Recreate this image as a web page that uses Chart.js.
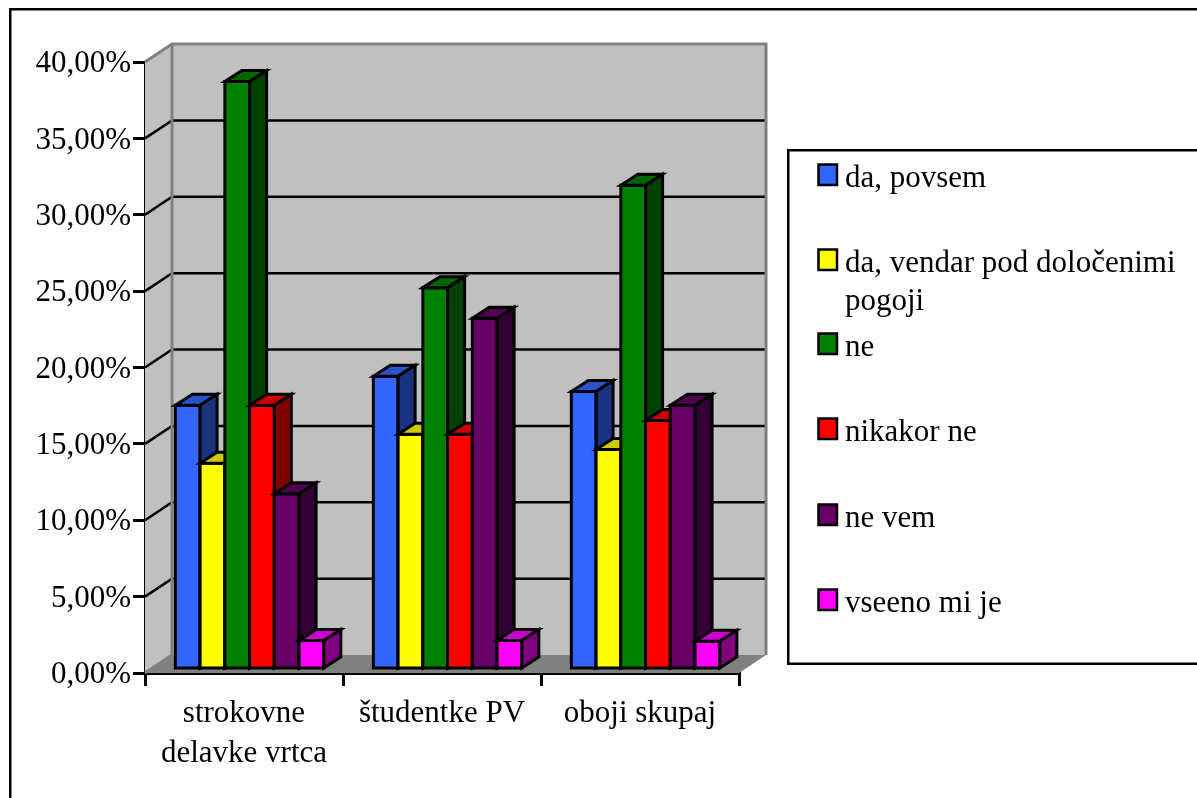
<!DOCTYPE html>
<html>
<head>
<meta charset="utf-8">
<script src="https://cdn.jsdelivr.net/npm/chart.js@4/dist/chart.umd.min.js"></script>
<style>html,body{margin:0;padding:0;background:#fff;overflow:hidden}canvas{display:block}</style>
</head>
<body>
<canvas id="c" width="1197" height="798"></canvas>
<script>
const categories = [["strokovne","delavke vrtca"],"študentke PV","oboji skupaj"];
const seriesNames = [["da, povsem"],["da, vendar pod določenimi","pogoji"],["ne"],["nikakor ne"],["ne vem"],["vseeno mi je"]];
const daPovsem = [17.3,19.2,18.2];
const daVendar = [13.5,15.4,14.4];
const ne = [38.5,25.0,31.7];
const nikakorNe = [17.3,15.4,16.3];
const neVem = [11.5,23.0,17.3];
const vseeno = [1.9,1.9,1.85];
const seriesValues = [daPovsem,daVendar,ne,nikakorNe,neVem,vseeno];
const frontColors = ["#3366FF","#FFFF00","#008000","#FF0000","#660066","#FF00FF"];
const topColors = ["#2952CC","#CCCC00","#006600","#CC0000","#520052","#CC00CC"];
const sideColors = ["#1A3380","#808000","#004000","#800000","#330033","#800080"];
const legendRows = [177,262,346,431,517,602];

const DX=27, DY=18, BX=5.6, BY=3.5, BDX=17, BDY=11;
const FONT='"Liberation Serif","Times New Roman",serif';

function poly(ctx,pts,fill,stroke,lw){
  ctx.beginPath();
  pts.forEach((p,i)=>i?ctx.lineTo(p[0],p[1]):ctx.moveTo(p[0],p[1]));
  ctx.closePath();
  if(fill){ctx.fillStyle=fill;ctx.fill();}
  if(stroke){ctx.strokeStyle=stroke;ctx.lineWidth=lw;ctx.lineJoin='miter';ctx.stroke();}
}

const box3d = {
  id:'box3d',
  beforeDraw(chart){
    const ctx=chart.ctx;
    ctx.save();
    ctx.fillStyle='#fff';ctx.fillRect(0,0,chart.width,chart.height);
    ctx.strokeStyle='#000';ctx.lineWidth=2.5;
    ctx.beginPath();
    ctx.moveTo(10.25,chart.height+5);ctx.lineTo(10.25,9.25);ctx.lineTo(chart.width+5,9.25);
    ctx.stroke();
    ctx.restore();
  },
  beforeDatasetsDraw(chart){
    const {ctx,chartArea:a,scales:{y}}=chart;
    ctx.save();
    poly(ctx,[[a.left,a.top],[a.left+DX,a.top-DY],[a.left+DX,a.bottom-DY],[a.left,a.bottom]],'#C0C0C0');
    poly(ctx,[[a.left+DX,a.top-DY],[a.right+DX,a.top-DY],[a.right+DX,a.bottom-DY],[a.left+DX,a.bottom-DY]],'#C0C0C0');
    poly(ctx,[[a.left,a.bottom],[a.left+DX,a.bottom-DY],[a.right+DX,a.bottom-DY],[a.right,a.bottom]],'#808080');
    ctx.strokeStyle='#000';ctx.lineWidth=2.5;
    y.ticks.forEach(t=>{
      if(t.value===0||t.value===40)return;
      const py=y.getPixelForValue(t.value);
      ctx.beginPath();
      ctx.moveTo(a.left,py);ctx.lineTo(a.left+DX,py-DY);ctx.lineTo(a.right+DX,py-DY);
      ctx.stroke();
    });
    ctx.strokeStyle='#808080';ctx.lineWidth=3;
    ctx.beginPath();
    ctx.moveTo(a.left,a.top);ctx.lineTo(a.left+DX,a.top-DY);ctx.lineTo(a.right+DX,a.top-DY);ctx.lineTo(a.right+DX,a.bottom-DY);
    ctx.moveTo(a.left+DX,a.top-DY);ctx.lineTo(a.left+DX,a.bottom-DY);
    ctx.moveTo(a.left,a.bottom);ctx.lineTo(a.left+DX,a.bottom-DY);
    ctx.stroke();
    ctx.restore();
  },
  // the library draws datasets last-to-first; these bars must overlap first-to-last
  beforeDatasetDraw(){ return false; },
  afterDatasetsDraw(chart){
    const ctx=chart.ctx;
    ctx.save();
    ctx.translate(BX,-BY);
    chart.data.datasets.forEach((d,i)=>{
      const meta=chart.getDatasetMeta(i);
      meta.data.forEach(b=>{
        b.draw(ctx);
        const p=b.getProps(['x','y','base','width'],true);
        const l=p.x-p.width/2,r=p.x+p.width/2,t=p.y,bt=p.base;
        poly(ctx,[[l,t],[r,t],[r,bt],[l,bt]],null,'#000',3);
        poly(ctx,[[l,t],[l+BDX,t-BDY],[r+BDX,t-BDY],[r,t]],topColors[i],'#000',3);
        poly(ctx,[[r,t],[r+BDX,t-BDY],[r+BDX,bt-BDY],[r,bt]],sideColors[i],'#000',3);
      });
    });
    ctx.restore();
  },
  afterDraw(chart){
    const ctx=chart.ctx;
    ctx.save();
    ctx.strokeStyle='#000';ctx.lineWidth=2.5;
    ctx.strokeRect(788.25,150.25,420,513.5);
    ctx.textBaseline='alphabetic';ctx.textAlign='left';
    ctx.font='31px '+FONT;
    chart.data.datasets.forEach((d,i)=>{
      const yc=legendRows[i];
      ctx.fillStyle=frontColors[i];
      ctx.fillRect(818.5,yc-12.5,18.5,20.5);
      ctx.strokeRect(818.5,yc-12.5,18.5,20.5);
      ctx.fillStyle='#000';
      seriesNames[i].forEach((line,k)=>ctx.fillText(line,845,yc+10+k*38));
    });
    ctx.restore();
  }
};

new Chart(document.getElementById('c'),{
  type:'bar',
  data:{
    labels:categories,
    datasets:seriesValues.map((v,i)=>({
      label:seriesNames[i].join(' '),
      data:v,
      backgroundColor:frontColors[i],
      borderWidth:0,
      categoryPercentage:0.75,
      barPercentage:1
    }))
  },
  options:{
    responsive:false,
    animation:false,
    layout:{padding:{top:62,right:458,left:0,bottom:0}},
    plugins:{legend:{display:false},tooltip:{enabled:false},title:{display:false}},
    scales:{
      x:{
        afterFit(s){s.height=125;},
        grid:{display:true,drawOnChartArea:false,drawTicks:true,tickLength:13,color:'#000',lineWidth:3,offset:true},
        border:{display:true,color:'#000',width:3},
        ticks:{color:'#000',font:{family:FONT,size:31,lineHeight:1.29},maxRotation:0,autoSkip:false,padding:8}
      },
      y:{
        min:0,max:40,
        afterFit(s){s.width=145;},
        grid:{display:true,drawOnChartArea:false,drawTicks:true,tickLength:12,color:'#000',lineWidth:3},
        border:{display:true,color:'#000',width:3},
        ticks:{stepSize:5,color:'#000',font:{family:FONT,size:31},padding:2,labelOffset:2,
          callback:v=>v.toFixed(2).replace('.',',')+'%'}
      }
    }
  },
  plugins:[box3d]
});
</script>
</body>
</html>
